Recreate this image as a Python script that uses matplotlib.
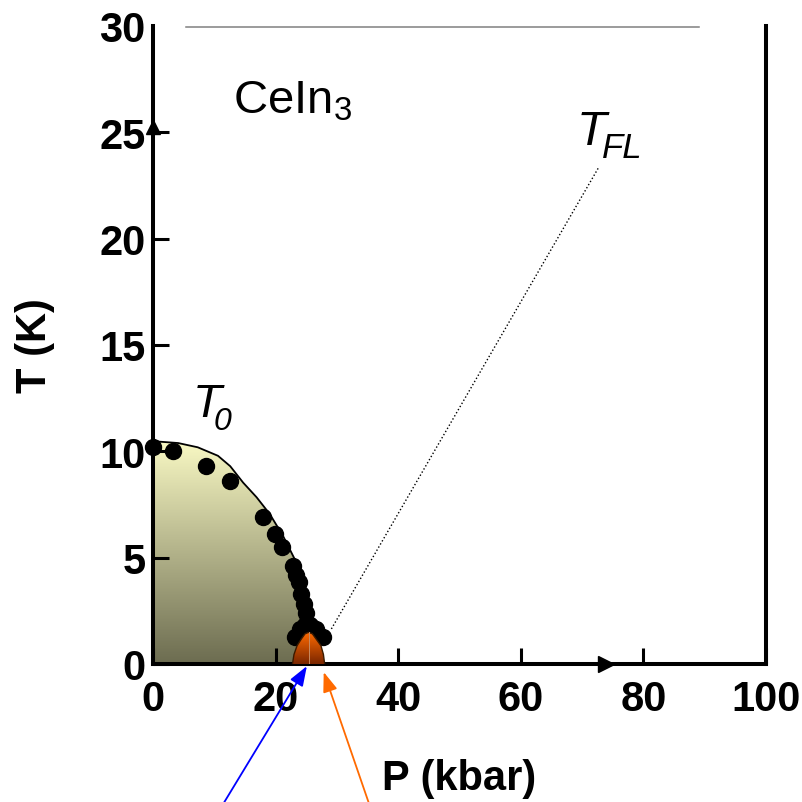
import numpy as np
import matplotlib
matplotlib.use("Agg")
import matplotlib.pyplot as plt
from matplotlib.patches import Polygon
from matplotlib.colors import LinearSegmentedColormap

# ---------------- data ----------------
# T0(P) boundary curve (kbar, K)
curve_p = [0.0, 0.8, 4.1, 7.3, 10.6, 12.6, 14.7, 16.9, 19.05, 21.2, 23.1, 24.5, 25.3, 25.45, 25.5]
curve_t = [10.5, 10.46, 10.39, 10.19, 9.79, 9.3, 8.53, 7.84, 7.05, 6.03, 4.94, 3.84, 2.74, 1.5, 0.0]

# measured points
pts_p = [0.0, 3.26, 8.7, 12.5, 18.0, 19.9, 21.0, 22.9, 23.4, 23.8, 24.2, 24.6, 25.0,
         23.1, 23.9, 24.8, 25.6, 26.6, 27.8]
pts_t = [10.19, 10.03, 9.32, 8.6, 6.9, 6.1, 5.5, 4.6, 4.2, 3.84, 3.3, 2.8, 2.4,
         1.28, 1.64, 1.85, 1.85, 1.64, 1.28]

# superconducting dome
dome_p = [22.75, 23.0, 23.5, 24.2, 24.8, 25.4, 26.0, 26.6, 27.4, 27.8, 28.0]
dome_t = [0.0, 0.45, 0.86, 1.18, 1.42, 1.49, 1.42, 1.18, 0.86, 0.45, 0.0]

# T_FL dotted line
tfl_p = [29.1, 72.7]
tfl_t = [1.65, 23.35]

xticks = [0, 20, 40, 60, 80, 100]
yticks = [0, 5, 10, 15, 20, 25, 30]

# ---------------- style ----------------
plt.rcParams['mathtext.fontset'] = 'custom'
plt.rcParams['mathtext.rm'] = 'Liberation Sans'
plt.rcParams['mathtext.it'] = 'Liberation Sans:italic'
plt.rcParams['font.family'] = ['Liberation Sans', 'DejaVu Sans']

fig = plt.figure(figsize=(8.02, 8.03), dpi=100)
ax = fig.add_axes([153/802, 1-665/803, (766-153)/802, (665-27)/803])


def grad_fill(xs, ys, c_top, c_bot, z):
    poly = Polygon(np.column_stack([xs, ys]), closed=True,
                   facecolor='none', edgecolor='none')
    ax.add_patch(poly)
    cmap = LinearSegmentedColormap.from_list('g', [c_bot, c_top])
    grad = np.linspace(0, 1, 256).reshape(-1, 1)
    im = ax.imshow(grad, extent=(min(xs), max(xs), 0, max(ys)),
                   origin='lower', aspect='auto', cmap=cmap, zorder=z,
                   interpolation='bilinear')
    im.set_clip_path(poly)


# T0 region
fx = [0.0] + curve_p + [0.0]
fy = [0.0] + curve_t + [0.0]
grad_fill(fx, fy, '#f9f9c4', '#6c6c50', 1)
ax.plot(curve_p, curve_t, color='black', lw=1.3, zorder=2)

# points
ax.plot(pts_p, pts_t, 'o', color='black', ms=11.5, zorder=3, clip_on=False)

# dome
grad_fill(dome_p, dome_t, '#ff6a00', '#7a2600', 4)
ax.plot(dome_p, dome_t, color='#3a1a00', lw=1.0, zorder=5)
ax.plot([dome_p[5], dome_p[5]], [0, dome_t[5]], color='#c88a60', lw=0.7, zorder=5)

# T_FL line
ax.plot(tfl_p, tfl_t, color='black', lw=1.0, ls=(0, (1, 1.6)), zorder=2)

# top gray line and decorations
ax.plot([5.4, 89.1], [29.95, 29.95], color='#808080', lw=1.1, clip_on=False, zorder=2)
ax.plot([73.9], [0], marker='>', color='black', ms=12, clip_on=False, zorder=6)
ax.plot([0], [25.25], marker='^', color='black', ms=10, clip_on=False, zorder=6)

# arrows below axis
ax.annotate('', xy=(25.1, -0.1), xytext=(11.2, -6.7),
            arrowprops=dict(arrowstyle='-|>,head_length=0.6,head_width=0.22',
                            color='#0000ff', lw=1.3, shrinkA=0, shrinkB=0,
                            mutation_scale=20),
            annotation_clip=False)
ax.annotate('', xy=(27.85, -0.38), xytext=(35.4, -6.7),
            arrowprops=dict(arrowstyle='-|>,head_length=0.6,head_width=0.22',
                            color='#ff6a00', lw=1.3, shrinkA=0, shrinkB=0,
                            mutation_scale=20),
            annotation_clip=False)

# texts
ax.text(13.0, 25.95, 'CeIn$_3$', fontsize=34, va='baseline', zorder=7)
ax.text(69.05, 24.45, 'T', fontsize=35, style='italic', va='baseline', zorder=7)
ax.text(73.2, 23.84, 'FL', fontsize=25, style='italic', va='baseline', zorder=7)
ax.text(6.5, 11.66, 'T', fontsize=34, style='italic', va='baseline', zorder=7)
ax.text(9.9, 11.05, '0', fontsize=23, style='italic', va='baseline', zorder=7)

# axes
ax.set_xlim(0, 100)
ax.set_ylim(0, 30)
ax.set_xticks(xticks)
ax.set_yticks(yticks)
ax.set_xticklabels([str(v) for v in xticks], weight='bold', fontsize=30)
ax.set_yticklabels([str(v) for v in yticks], weight='bold', fontsize=30)
ax.tick_params(direction='in', length=11.5, width=2.2, color='black')
ax.tick_params(axis='y', pad=5.5)
ax.tick_params(axis='x', pad=11)
ax.yaxis.get_major_ticks()[-1].tick1line.set_visible(False)

for s in ['left', 'bottom', 'right']:
    ax.spines[s].set_linewidth(2.9)
    ax.spines[s].set_color('black')
ax.spines['top'].set_visible(False)

ax.set_xlabel('P (kbar)', weight='bold', fontsize=30)
ax.set_ylabel('T (K)', weight='bold', fontsize=30)
ax.xaxis.set_label_coords(0.5, -0.148)
ax.yaxis.set_label_coords(-0.16, 0.5)

fig.savefig('out.png', dpi=100)
